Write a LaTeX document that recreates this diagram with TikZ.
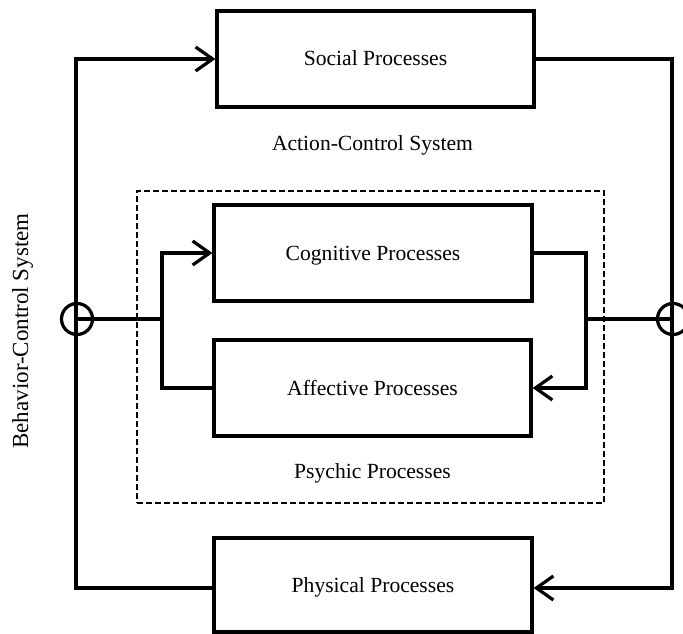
\documentclass[tikz,border=0pt]{standalone}
\usepackage{fontspec}
\setmainfont{Liberation Serif}
\usetikzlibrary{arrows.meta}
\begin{document}
\begin{tikzpicture}[x=1pt,y=-1pt,
  every node/.style={font=\fontsize{21.6pt}{26pt}\selectfont},
  procbox/.style={draw, line width=3.2pt, minimum width=317pt, minimum height=96pt,
    inner sep=0pt, text height=14pt, text depth=0pt},
  conn/.style={line width=3.2pt},
  tip/.style={-{Straight Barb[length=17pt,width=24pt,line width=3.2pt]}},
  junction/.style={circle, draw, line width=3.2pt, minimum size=31pt, inner sep=0pt},
  dashbox/.style={draw, line width=1.6pt, dash pattern=on 6pt off 3pt,
    minimum width=467pt, minimum height=312pt, inner sep=0pt},
  caption/.style={inner sep=0pt, anchor=base}]
\useasboundingbox (0,0) rectangle (683,634);

% process blocks
\node[procbox] (soc) at (375.5,59) {Social Processes};
\node[procbox, minimum width=318pt] (cog) at (373,253) {Cognitive Processes};
\node[procbox] (aff) at (372.5,388) {Affective Processes};
\node[procbox, minimum width=318pt, minimum height=94pt] (phys) at (373,585) {Physical Processes};

% psychic subsystem frame
\node[dashbox] (psy) at (370.5,347) {};
\node[caption] (psylbl) at (372.5,478) {Psychic Processes};
\node[caption] (acs) at (372.5,150) {Action-Control System};
\node[caption, rotate=90, font=\fontsize{23pt}{27pt}\selectfont] (bcs) at (28,331) {Behavior-Control System};

% summing junctions
\node[junction] (cl) at (77,319) {};
\node[junction] (cr) at (673,319) {};

% corner points of the outer loop
\coordinate (tl) at (76,59);
\coordinate (bl) at (76,588);
\coordinate (tr) at (672,59);
\coordinate (br) at (672,588);
% inner branch lines
\coordinate (jl) at (162,319);
\coordinate (jr) at (586,319);

% outer loop
\draw[conn, tip] (phys.west |- bl) -- (bl) -- (tl) -- (soc.west |- tl);
\draw[conn, tip] (soc.east |- tr) -- (tr) -- (br) -- (phys.east |- br);

% inner loop
\draw[conn] (cl.center) -- (jl);
\draw[conn, tip] (aff.west) -- (aff.west -| jl) -- (cog.west -| jl) -- (cog.west);
\draw[conn, tip] (cog.east) -- (cog.east -| jr) -- (aff.east -| jr) -- (aff.east);
\draw[conn] (jr) -- (cr.center);
\end{tikzpicture}
\end{document}
